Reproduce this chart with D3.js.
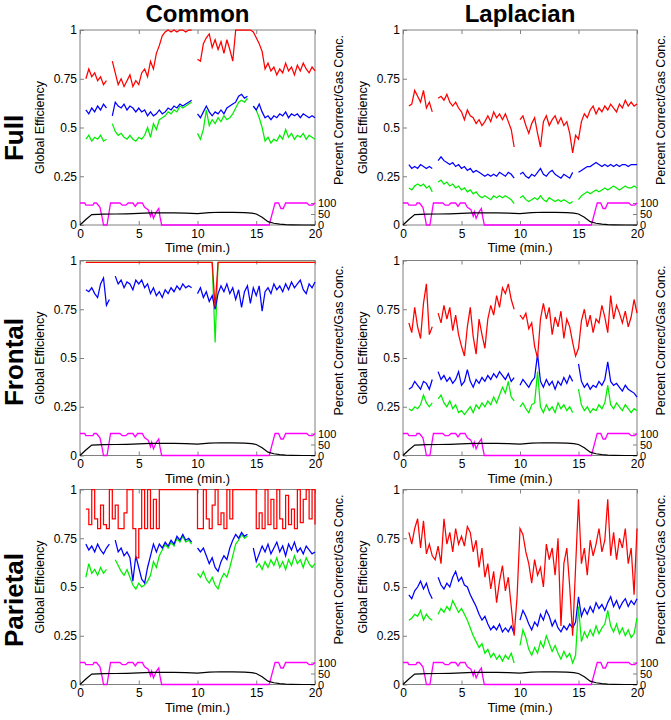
<!DOCTYPE html>
<html><head><meta charset="utf-8">
<script src="https://cdn.jsdelivr.net/npm/d3@7"></script>
<style>
body{margin:0;background:#fff}
text{font-family:Arial,"Liberation Sans",Helvetica,sans-serif;fill:#000}
</style>
</head><body>
<svg id="chart" width="671" height="720"></svg>
<script>
// ---------- categories / ticks ----------
const times = d3.range(0.5, 20.001, 0.25);   // 79 samples, 0.5 .. 20 min
const xTicks = [0, 5, 10, 15, 20];
const yTicks = [0, 0.25, 0.5, 0.75, 1];
const yTickLabels = ["0", "0.25", "0.5", "0.75", "1"];
const rightTicks = [0, 50, 100];
const columnTitles = ["Common", "Laplacian"];
const rowTitles = ["Full", "Frontal", "Parietal"];

// ---------- shared behavioural traces (right axis, 0-100) ----------
const pctTime = [0,0.4,0.5,1.1,1.2,1.4,1.7,1.9,2.0,2.3,2.6,3.4,3.6,3.9,4.1,4.5,4.7,4.9,5.3,5.5,5.8,6.0,6.1,6.25,6.5,6.7,6.8,6.95,16.1,16.5,16.6,16.9,17.1,17.3,17.5,19.3,19.5,19.8,20];
const pctCorrect = [100,100,90,90,100,100,80,30,0,0,100,100,90,90,100,100,85,100,100,80,70,40,60,30,60,75,40,0,0,80,100,100,75,75,100,100,90,90,100];
const gasTime = [0,0.5,1,2,3,4,5,6,7,8,9,10,11,12,13,14,14.6,15,15.5,16,16.5,17,17.5,18,19,20];
const gasConc = [0,25,47,49,50,51,53,55,55,55,54,52,56,58,57,56,54,50,35,15,8,4,2,1,0,0];

// ---------- Full / Common ----------
const fullCommonRed = [.75,.80, .76,.78,.74,.76, .72,.74,null,.84, .78,.72,.75,.71, .74,.77,.71,.74, .72,.78,.80,.76, .84,.80,.88,.92, .97,.99,1.0,.99, 1.0,.99,1.0,1.0, .99,1.0,1.0,null, .85,.84,.93,.96, .98,.91,.95,.90, .94,.88,.95,.90, .84,1.0,1.0,1.0, 1.0,1.0,1.0,.99, .96,.93,.89,.80, .83,.79,.81,.77, .80,.78,.83,.79, .81,.77,.82,.79, .83,.80,.78,.81, .79];
const fullCommonBlue = [.59,.57, .60,.58,.61,.59, .62,.60,null,.56, .63,.61,.60,.62, .59,.61,.60,.58, .60,.58,.59,.56, .58,.56,.57,.59, .57,.58,.60,.59, .61,.60,.62,.61, .62,.63,.64,null, .57,.55,.58,.61, .58,.56,.58,.57, .59,.57,.60,.61, .62,.63,.66,.67, .65,.66,null,.61, .59,.62,.58,.55, .56,.54,.56,.55, .57,.56,.58,.55, .57,.56,.57,.55, .57,.56,.55,.56, .55];
const fullCommonGreen = [.44,.46, .43,.45,.44,.46, .43,.44,null,.52, .48,.46,.47,.45, .44,.46,.44,.43, .45,.44,.46,.50, .45,.52,.49,.54, .55,.56,.58,.57, .59,.58,.61,.60, .61,.62,.63,null, .47,.44,.49,.59, .51,.54,.52,.55, .53,.56,.54,.55, .57,.60,.63,.64, .63,.65,null,.61, .59,.55,.50,.43, .45,.42,.44,.43, .46,.44,.49,.45, .47,.44,.46,.45, .47,.44,.46,.45, .44];

// ---------- Full / Laplacian ----------
const fullLapRed = [.61,.62, .69,.66,.63,.69, .60,.63,.58,null, .65,.66,.64,.67, .63,.61,.63,.60, .58,.54,.59,.56, .55,.52,.54,.51, .53,.56,.53,.58, .55,.57,.54,.57, .53,.49,.40,null, .54,.56,.51,.47, .52,.55,.47,.40, .53,.56,.51,.54, .56,.52,.55,.51, .53,.47,.37,.46, .44,.53,.57,.55, .59,.61,.57,.60, .58,.61,.59,.62, .60,.58,.62,.60, .64,.61,.63,.61, .62];
const fullLapBlue = [.31,.29, .30,.29,.31,.30, .29,.30,.29,null, .33,.35,.33,.32, .31,.32,.30,.31, .29,.30,.28,.29, .27,.28,.27,.26, .25,.26,.25,.26, .25,.27,.26,.25, .27,.26,.24,null, .26,.27,.25,.24, .26,.25,.27,.29, .26,.25,.27,.28, .26,.25,.24,.26, .25,.24,.27,null, .27,.28,.29,.30, .30,.31,.32,.31, .30,.31,.30,.31, .30,.31,.30,.31, .31,.30,.31,.31, .31];
const fullLapGreen = [.19,.18, .20,.21,.20,.21, .19,.20,.17,null, .22,.23,.21,.22, .20,.21,.19,.20, .18,.19,.17,.18, .16,.17,.15,.14, .15,.14,.13,.15, .14,.15,.14,.15, .14,.13,.11,null, .14,.15,.13,.12, .13,.14,.13,.15, .13,.12,.14,.13, .12,.13,.12,.13, .12,.11,.12,null, .13,.15,.16,.17, .16,.17,.18,.17, .18,.19,.18,.19, .20,.19,.18,.19, .20,.19,.19,.20, .19];

// ---------- Frontal / Common ----------
const frontCommonRed = [.99,.99, .99,.99,.99,.99, .99,.99,.99,.99, .99,.99,.99,.99, .99,.99,.99,.99, .99,.99,.99,.99, .99,.99,.99,.99, .99,.99,.99,.99, .99,.99,.99,.99, .99,.99,.99,.99, .99,.99,.99,.99, .99,.99,.76,.99, .99,.99,.99,.99, .99,.99,.99,.99, .99,.99,.99,.99, .99,.99,.99,.99, .99,.99,.99,.99, .99,.99,.99,.99, .99,.99,.99,.99, .99,.99,.99,.99, .99];
const frontCommonBlue = [.85,.84, .86,.83,.81,.88, .91,.77,.80,null, .92,.88,.90,.86, .89,.88,.85,.90, .88,.90,.86,.88, .83,.86,.82,.84, .81,.85,.83,.86, .84,.87,.85,.88, .86,.87,.86,null, .83,.86,.81,.84, .79,.82,.75,.83, .87,.84,.88,.83, .86,.80,.85,.76, .84,.87,.78,.86, .82,.87,.74,.84, .86,.83,.88,.85, .87,.84,.88,.85, .89,.86,.88,.90, .85,.83,.88,.86, .89];
const frontCommonGreen = [.99,.99, .99,.99,.99,.99, .99,.99,.99,.99, .99,.99,.99,.99, .99,.99,.99,.99, .99,.99,.99,.99, .99,.99,.99,.99, .99,.99,.99,.99, .99,.99,.99,.99, .99,.99,.99,.99, .99,.99,.99,.99, .99,.99,.58,.99, .99,.99,.99,.99, .99,.99,.99,.99, .99,.99,.99,.99, .99,.99,.99,.99, .99,.99,.99,.99, .99,.99,.99,.99, .99,.99,.99,.99, .99,.99,.99,.99, .99];

// ---------- Frontal / Laplacian ----------
const frontLapRed = [.68,.63, .76,.66,.60,.78, .88,.62,.66,null, .73,.68,.77,.70, .76,.64,.72,.62, .56,.51,.66,.76, .61,.52,.70,.62, .55,.70,.77,.72, .82,.76,.86,.83, .88,.80,.75,null, .72,.70,.73,.65, .68,.56,.50,.70, .78,.70,.76,.62, .71,.66,.74,.60, .70,.66,.58,.51, .55,.69,.75,.66, .72,.63,.70,.68, .77,.71,.63,.82, .70,.77,.73,.68, .74,.66,.71,.80, .73];
const frontLapBlue = [.34,.35, .38,.36,.34,.38, .37,.34,.39,null, .43,.39,.41,.38, .40,.37,.39,.43, .36,.38,.44,.38, .35,.39,.37,.40, .38,.41,.39,.42, .40,.43,.41,.39, .42,.38,.40,null, .36,.39,.37,.35, .38,.40,.52,.38, .35,.39,.36,.38, .34,.38,.36,.40, .37,.41,.38,null, .47,.38,.35,.37, .34,.36,.35,.38, .36,.39,.48,.38, .36,.37,.35,.33, .36,.34,.33,.32, .30];
const frontLapGreen = [.24,.23, .25,.24,.26,.31, .27,.25,.27,null, .29,.31,.27,.25, .28,.24,.26,.22, .23,.21,.23,.25, .22,.26,.24,.27, .25,.28,.26,.30, .27,.31,.35,.32, .38,.30,.28,null, .25,.27,.24,.22, .26,.27,.43,.25, .22,.26,.23,.25, .22,.27,.24,.26, .23,.25,.22,null, .34,.26,.23,.25, .22,.24,.23,.26, .24,.27,.36,.26, .24,.27,.25,.23, .26,.24,.22,.24, .23];

// ---------- Parietal / Common ----------
const parCommonRed = [.90,.82, 1.0,.85,.80,.92, .82,.80,1.0,.85, .92,.80,.80,.88, 1.0,1.0,.80,.65, .80,1.0,.80,1.0, .80,.95,.80,1.0, 1.0,1.0,1.0,1.0, 1.0,1.0,1.0,1.0, 1.0,1.0,1.0,1.0, .80,.80,1.0,.85, .80,.92,1.0,.82, .88,.80,1.0,.85, 1.0,1.0,1.0,1.0, 1.0,1.0,1.0,1.0, .80,.88,.80,1.0, .82,.95,.80,1.0, .85,.80,.97,.82, .90,.80,1.0,.83, .95,1.0,.85,1.0, .82];
const parCommonBlue = [.72,.69, .71,.68,.72,.69, .67,.70,.72,null, .74,.68,.70,.66, .68,.65,.53,.66, .60,.54,.52,.60, .66,.72,.68,.72, .70,.73,.71,.74, .72,.76,.74,.77, .74,.75,.73,null, .70,.68,.70,.66, .62,.65,.60,.58, .63,.66,.64,.70, .74,.77,.75,.78, .76,.77,null,.70, .63,.67,.71,.68, .72,.67,.70,.73, .68,.71,.66,.72, .69,.73,.68,.70, .67,.71,.69,.67, .68];
const parCommonGreen = [.55,.62, .57,.59,.56,.60, .57,.59,null,null, .64,.61,.58,.56, .59,.55,.51,.49, .52,.50,.51,.53, .56,.63,.60,.66, .69,.72,.70,.73, .71,.75,.73,.76, .73,.74,.72,null, .57,.55,.58,.54, .52,.55,.51,.49, .54,.57,.55,.60, .66,.72,.74,.77, .75,.76,null,null, .60,.62,.59,.63, .60,.64,.61,.65, .60,.63,.59,.64, .61,.66,.62,.64, .60,.65,.62,.60, .62];

// ---------- Parietal / Laplacian ----------
const parLapRed = [.78,.72, .80,.85,.70,.84, .67,.72,.66,.64, .71,.62,.85,.72, .78,.68,.80,.72, .76,.71,.81,.78, .68,.74,.60,.70, .55,.62,.49,.58, .42,.53,.61,.48, .55,.40,.25,.45, .80,.77,.68,.62, .52,.64,.56,.60, .50,.72,.64,.70, .56,.75,.30,.62, .70,.50,.25,.60, .95,.62,.70,.56, .74,.66,.72,.80, .68,.74,.95,.66, .78,.64,.75,.70, .80,.62,.70,.46, .80];
const parLapBlue = [.46,.44, .48,.50,.53,.49, .52,.47,.44,null, .55,.51,.49,.52, .50,.55,.58,.53, .55,.51,.50,.46, .43,.40,.36,.33, .35,.31,.28,.30, .28,.31,.27,.29, .27,.30,.26,null, .33,.38,.35,.31, .28,.32,.30,.36, .33,.38,.35,.30, .33,.29,.27,.30, .28,.31,.29,.32, .45,.35,.39,.36, .40,.37,.42,.39, .41,.38,.42,.45, .40,.43,.39,.42, .44,.40,.43,.41, .44];
const parLapGreen = [.33,.34, .36,.35,.38,.33, .36,.34,.33,null, .36,.39,.37,.40, .38,.43,.40,.37, .39,.36,.33,.29, .25,.22,.19,.21, .16,.18,.14,.16, .13,.15,.12,.15, .13,.16,.11,null, .20,.28,.24,.18, .15,.19,.16,.22, .19,.25,.21,.17, .20,.16,.13,.17, .14,.16,.11,.15, .40,.22,.27,.24, .28,.25,.30,.26, .29,.31,.38,.30, .27,.31,.26,.29, .25,.28,.24,.26, .34];

const panels = [
  {row:0, col:0, red:fullCommonRed,  blue:fullCommonBlue,  green:fullCommonGreen},
  {row:0, col:1, red:fullLapRed,     blue:fullLapBlue,     green:fullLapGreen},
  {row:1, col:0, red:frontCommonRed, blue:frontCommonBlue, green:frontCommonGreen},
  {row:1, col:1, red:frontLapRed,    blue:frontLapBlue,    green:frontLapGreen},
  {row:2, col:0, red:parCommonRed,   blue:parCommonBlue,   green:parCommonGreen, redStep:true},
  {row:2, col:1, red:parLapRed,      blue:parLapBlue,      green:parLapGreen}
];

// ---------- layout ----------
const colX = [[80, 315], [403, 637]];
const rowTop = [30, 260.5, 489.5];
const plotH = 195;
const rightSpan = 22;      // px occupied by 0..100 on the right axis
const frameColor = "#808080";

const svg = d3.select("#chart");

columnTitles.forEach((t, c) => {
  svg.append("text").attr("x", (colX[c][0] + colX[c][1]) / 2).attr("y", 22)
    .attr("text-anchor", "middle").attr("font-size", 24).attr("font-weight", "bold").text(t);
});
const rowLabelY = [138, 362, 600];
rowTitles.forEach((t, r) => {
  svg.append("text").attr("transform", `translate(23,${rowLabelY[r]}) rotate(-90)`)
    .attr("text-anchor", "middle").attr("font-size", 26).attr("font-weight", "bold").text(t);
});

panels.forEach(p => {
  const [x0, x1] = colX[p.col];
  const top = rowTop[p.row], bot = top + plotH;
  const x = d3.scaleLinear().domain([0, 20]).range([x0, x1]);
  const y = d3.scaleLinear().domain([0, 1]).range([bot, top]);
  const yR = d3.scaleLinear().domain([0, 100]).range([bot, bot - rightSpan]);
  const g = svg.append("g");

  g.append("rect").attr("x", x0).attr("y", top).attr("width", x1 - x0).attr("height", plotH)
    .attr("fill", "none").attr("stroke", frameColor).attr("stroke-width", 1);

  const styleAxis = (sel, fs) => {
    sel.select(".domain").remove();
    sel.selectAll(".tick line").attr("stroke", frameColor);
    sel.selectAll(".tick text").attr("font-size", fs).attr("fill", "#000")
      .attr("font-family", 'Arial,"Liberation Sans",sans-serif');
  };
  g.append("g").attr("transform", `translate(0,${bot})`)
    .call(d3.axisBottom(x).tickValues(xTicks).tickSize(-4).tickPadding(4).tickFormat(d3.format("d")))
    .call(styleAxis, 12);
  g.append("g").attr("transform", `translate(0,${top})`)
    .call(d3.axisTop(x).tickValues(xTicks).tickSize(-4).tickFormat(""))
    .call(styleAxis, 12);
  g.append("g").attr("transform", `translate(${x0},0)`)
    .call(d3.axisLeft(y).tickValues(yTicks).tickSize(-4).tickPadding(3).tickFormat((d, i) => yTickLabels[i]))
    .call(styleAxis, 12);
  g.append("g").attr("transform", `translate(${x1},0)`)
    .call(d3.axisRight(yR).tickValues(rightTicks).tickSize(-4).tickPadding(3))
    .call(styleAxis, 11);

  g.append("text").attr("x", (x0 + x1) / 2).attr("y", bot + 27).attr("text-anchor", "middle")
    .attr("font-size", 13).text("Time (min.)");
  g.append("text").attr("transform", `translate(${x0 - 36},${top + plotH / 2}) rotate(-90)`)
    .attr("text-anchor", "middle").attr("font-size", 12.5).text("Global Efficiency");
  g.append("text").attr("transform", `translate(${x1 + 28},${top + 80}) rotate(-90)`)
    .attr("text-anchor", "middle").attr("font-size", 12.5).text("Percent Correct/Gas Conc.");

  // behavioural traces
  const lineR = d3.line().x(d => x(d[0])).y(d => yR(d[1]));
  g.append("path").datum(d3.zip(pctTime, pctCorrect)).attr("d", lineR)
    .attr("fill", "none").attr("stroke", "#ff00ff").attr("stroke-width", 1.3);
  g.append("path").datum(d3.zip(gasTime, gasConc)).attr("d", lineR)
    .attr("fill", "none").attr("stroke", "#000").attr("stroke-width", 1.2);

  const series = [["#00ee00", p.green, false], ["#0000ff", p.blue, false], ["#ff0000", p.red, !!p.redStep]];
  series.forEach(([col, vals, step]) => {
    const ln = d3.line().defined(d => d[1] != null).x(d => x(d[0])).y(d => y(d[1]))
      .curve(step ? d3.curveStepAfter : d3.curveLinear);
    g.append("path").datum(d3.zip(times, vals)).attr("d", ln)
      .attr("fill", "none").attr("stroke", col).attr("stroke-width", 1.25);
  });
});
</script>
</body></html>
